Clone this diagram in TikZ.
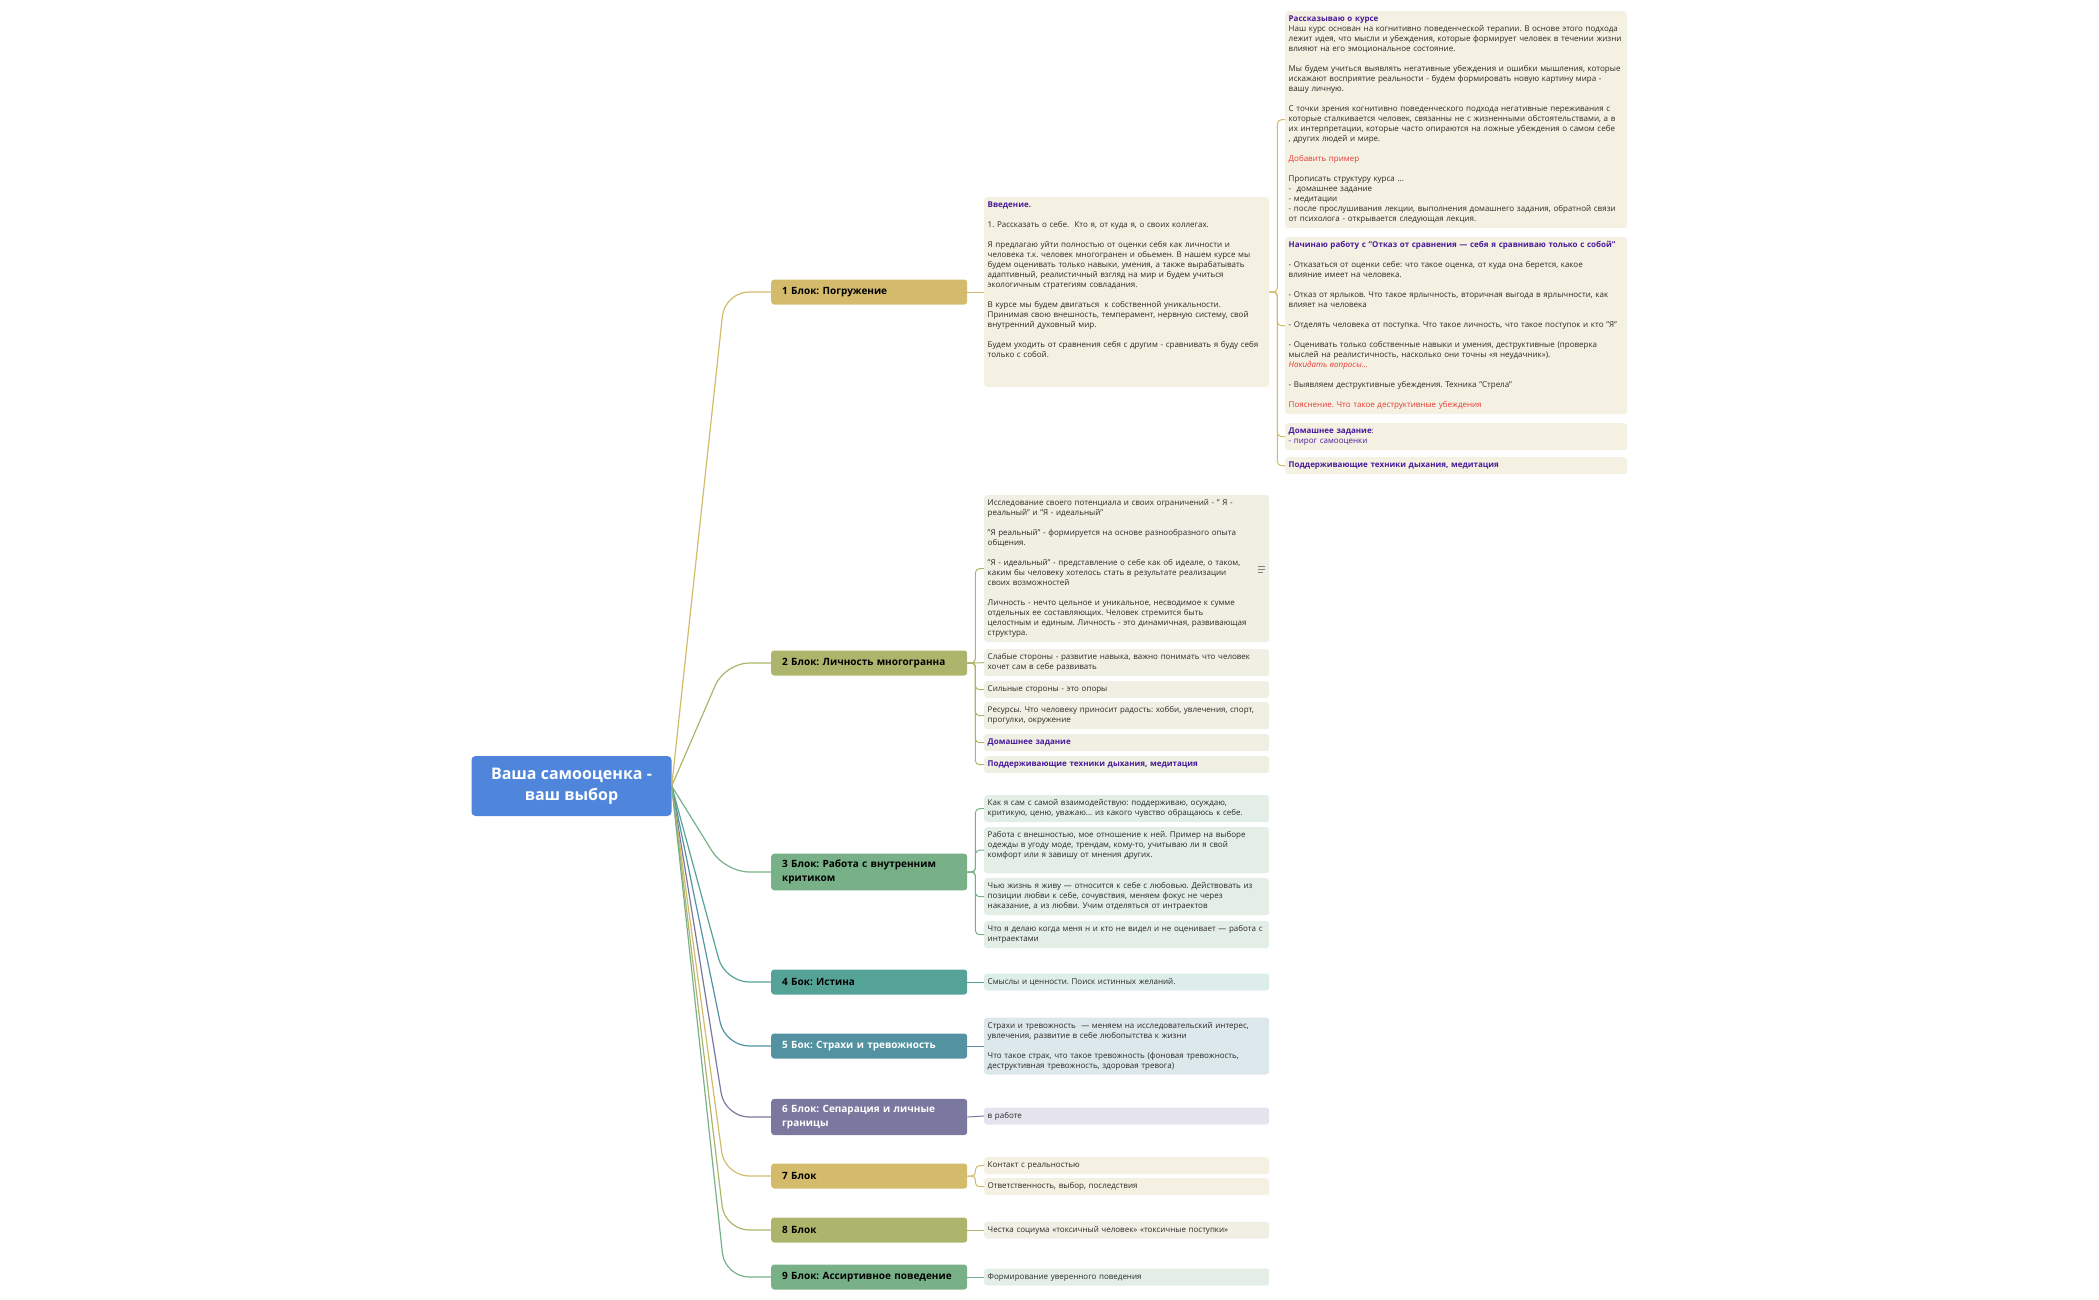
\documentclass[tikz,border=0pt]{standalone}
\usepackage{fontspec}
\setmainfont{Open Sans}
\frenchspacing

\definecolor{rootblue}{HTML}{4F86DB}
\definecolor{goldblk}{HTML}{D3BB6B}
\definecolor{oliveblk}{HTML}{ADB56C}
\definecolor{greenblk}{HTML}{78B188}
\definecolor{tealblk}{HTML}{55A397}
\definecolor{blueblk}{HTML}{5292A1}
\definecolor{violetblk}{HTML}{7A789F}
\definecolor{goldnote}{HTML}{F4F1E2}
\definecolor{olivenote}{HTML}{EFEFE4}
\definecolor{greennote}{HTML}{E3EFE6}
\definecolor{tealnote}{HTML}{DDEDEA}
\definecolor{bluenote}{HTML}{DCE8EC}
\definecolor{violetnote}{HTML}{E5E4EE}
\definecolor{inktext}{HTML}{2B2925}
\definecolor{inkpurple}{HTML}{4A1A9A}
\definecolor{inkred}{HTML}{E53935}

\newcommand{\headtxt}[1]{\textcolor{inkpurple}{\bfseries #1}}
\newcommand{\redtxt}[1]{\textcolor{inkred}{#1}}

\begin{document}
\begin{tikzpicture}[x=1pt, y=-1pt,
    root/.style={fill=rootblue, text=white, rounded corners=4pt, minimum width=200pt, minimum height=60pt, align=center, font=\fontsize{16}{20.5}\selectfont\bfseries},
    block/.style={anchor=west, rounded corners=3pt, minimum width=196pt, minimum height=25pt, text width=174pt, inner xsep=11pt, inner ysep=6.5pt, align=left, font=\fontsize{10}{13.5}\selectfont\bfseries},
    note/.style={anchor=north west, rounded corners=3pt, inner xsep=3.5pt, inner ysep=3.5pt, text width=278pt, align=left, text=inktext, font=\fontsize{8}{10}\selectfont, execute at begin node=\strut, execute at end node=\strut},
    wide/.style={text width=335pt},
    link/.style={line width=1.2pt, rounded corners=24pt},
    twig/.style={line width=1pt, rounded corners=4pt}]
    \useasboundingbox (0,0) rectangle (2099,1300);

    \node[root] (root) at (571.5,786) {Ваша самооценка -\\ваш выбор};

    \node[block, fill=goldblk] (b_1) at (771,292) {1 Блок: Погружение};
    \node[block, fill=oliveblk] (b_2) at (771,663) {2 Блок: Личность многогранна};
    \node[block, fill=greenblk] (b_3) at (771,872) {3 Блок: Работа с внутренним\\критиком};
    \node[block, fill=tealblk] (b_4) at (771,982) {4 Бок: Истина};
    \node[block, fill=blueblk, text=white] (b_5) at (771,1046) {5 Бок: Страхи и тревожность};
    \node[block, fill=violetblk, text=white] (b_6) at (771,1117) {6 Блок: Сепарация и личные\\границы};
    \node[block, fill=goldblk] (b_7) at (771,1176) {7 Блок};
    \node[block, fill=oliveblk] (b_8) at (771,1230) {8 Блок};
    \node[block, fill=greenblk] (b_9) at (771,1277) {9 Блок: Ассиртивное поведение};

    % 1 block
    \node[note, fill=goldnote, anchor=west, text height=7pt, text depth=176pt] (n_1) at (984,292) {\headtxt{Введение.}\\[10pt]
        1. Рассказать о себе.\ \ Кто я, от куда я, о своих коллегах.\\[10pt]
        Я предлагаю уйти полностью от оценки себя как личности и\\
        человека т.к. человек многогранен и обьемен. В нашем курсе мы\\
        будем оценивать только навыки, умения, а также вырабатывать\\
        адаптивный, реалистичный взгляд на мир и будем учиться\\
        экологичным стратегиям совладания.\\[10pt]
        В курсе мы будем двигаться\ \ к собственной уникальности.\\
        Принимая свою внешность, темперамент, нервную систему, свой\\
        внутренний духовный мир.\\[10pt]
        Будем уходить от сравнения себя с другим - сравнивать я буду себя\\
        только с собой.};
    \node[note, wide, fill=goldnote] (r_1) at (1285,11) {\headtxt{Рассказываю о курсе}\\
        Наш курс основан на когнитивно поведенческой терапии. В основе этого подхода\\
        лежит идея, что мысли и убеждения, которые формирует человек в течении жизни\\
        влияют на его эмоциональное состояние.\\[10pt]
        Мы будем учиться выявлять негативные убеждения и ошибки мышления, которые\\
        искажают восприятие реальности - будем формировать новую картину мира -\\
        вашу личную.\\[10pt]
        С точки зрения когнитивно поведенческого подхода негативные переживания с\\
        которые сталкивается человек, связанны не с жизненными обстоятельствами, а в\\
        их интерпретации, которые часто опираются на ложные убеждения о самом себе\\
        , других людей и мире.\\[10pt]
        \redtxt{Добавить пример}\\[10pt]
        Прописать структуру курса ...\\
        -\ \ домашнее задание\\
        - медитации\\
        - после прослушивания лекции, выполнения домашнего задания, обратной связи\\
        от психолога - открывается следующая лекция.};
    \node[note, wide, fill=goldnote] (r_2) at (1285,237) {\headtxt{Начинаю работу с "Отказ от сравнения — себя я сравниваю только с собой"}\\[10pt]
        - Отказаться от оценки себе: что такое оценка, от куда она берется, какое\\
        влияние имеет на человека.\\[10pt]
        - Отказ от ярлыков. Что такое ярлычность, вторичная выгода в ярлычности, как\\
        влияет на человека\\[10pt]
        - Отделять человека от поступка. Что такое личность, что такое поступок и кто "Я"\\[10pt]
        - Оценивать только собственные навыки и умения, деструктивные (проверка\\
        мыслей на реалистичность, насколько они точны «я неудачник»).\\
        \redtxt{\itshape Накидать вопросы...}\\[10pt]
        - Выявляем деструктивные убеждения. Техника "Стрела"\\[10pt]
        \redtxt{Пояснение. Что такое деструктивные убеждения}};
    \node[note, wide, fill=goldnote] (r_3) at (1285,423) {\headtxt{Домашнее задание}\textcolor{inkpurple}{:}\\
        \textcolor{inkpurple}{- пирог самооценки}};
    \node[note, wide, fill=goldnote] (r_4) at (1285,457) {\headtxt{Поддерживающие техники дыхания, медитация}};

    % 2 block
    \node[note, fill=olivenote] (n_2a) at (984,495) {Исследование своего потенциала и своих ограничений - " Я -\\
        реальный" и "Я - идеальный"\\[10pt]
        "Я реальный" - формируется на основе разнообразного опыта\\
        общения.\\[10pt]
        "Я - идеальный" - представление о себе как об идеале, о таком,\\
        каким бы человеку хотелось стать в результате реализации\\
        своих возможностей\\[10pt]
        Личность - нечто цельное и уникальное, несводимое к сумме\\
        отдельных ее составляющих. Человек стремится быть\\
        целостным и единым. Личность - это динамичная, развивающая\\
        структура.};
    \draw[gray, line width=0.8pt] (1258,566) -- (1265,566) (1258,569) -- (1265,569) (1258,572) -- (1263,572);
    \node[note, fill=olivenote] (n_2b) at (984,649) {Слабые стороны - развитие навыка, важно понимать что человек\\хочет сам в себе развивать};
    \node[note, fill=olivenote] (n_2c) at (984,681) {Сильные стороны - это опоры};
    \node[note, fill=olivenote] (n_2d) at (984,702) {Ресурсы. Что человеку приносит радость: хобби, увлечения, спорт,\\прогулки, окружение};
    \node[note, fill=olivenote] (n_2e) at (984,734) {\headtxt{Домашнее задание}};
    \node[note, fill=olivenote] (n_2f) at (984,756) {\headtxt{Поддерживающие техники дыхания, медитация}};

    % 3 block
    \node[note, fill=greennote] (n_3a) at (984,795) {Как я сам с самой взаимодействую: поддерживаю, осуждаю,\\критикую, ценю, уважаю... из какого чувство обращаюсь к себе.};
    \node[note, fill=greennote, text height=7pt, text depth=32pt] (n_3b) at (984,827) {Работа с внешностью, мое отношение к ней. Пример на выборе\\
        одежды в угоду моде, трендам, кому-то, учитываю ли я свой\\
        комфорт или я завишу от мнения других.};
    \node[note, fill=greennote] (n_3c) at (984,878) {Чью жизнь я живу — относится к себе с любовью. Действовать из\\
        позиции любви к себе, сочувствия, меняем фокус не через\\
        наказание, а из любви. Учим отделяться от интраектов};
    \node[note, fill=greennote] (n_3d) at (984,921) {Что я делаю когда меня н и кто не видел и не оценивает — работа с\\интраектами};

    % 4 - 9 blocks
    \node[note, fill=tealnote, anchor=west] (n_4) at (984,982) {Смыслы и ценности. Поиск истинных желаний.};
    \node[note, fill=bluenote, anchor=west] (n_5) at (984,1046) {Страхи и тревожность\ \ — меняем на исследовательский интерес,\\
        увлечения, развитие в себе любопытства к жизни\\[10pt]
        Что такое страх, что такое тревожность (фоновая тревожность,\\
        деструктивная тревожность, здоровая тревога)};
    \node[note, fill=violetnote, anchor=west] (n_6) at (984,1116) {в работе};
    \node[note, fill=goldnote] (n_7a) at (984,1157) {Контакт с реальностью};
    \node[note, fill=goldnote] (n_7b) at (984,1178) {Ответственность, выбор, последствия};
    \node[note, fill=olivenote, anchor=west] (n_8) at (984,1230) {Честка социума «токсичный человек» «токсичные поступки»};
    \node[note, fill=greennote, anchor=west] (n_9) at (984,1277) {Формирование уверенного поведения};

    \draw[link, goldblk] (root.east) -- ([xshift=-46]b_1.west) -- (b_1.west);
    \draw[link, oliveblk] (root.east) -- ([xshift=-46]b_2.west) -- (b_2.west);
    \draw[link, greenblk] (root.east) -- ([xshift=-46]b_3.west) -- (b_3.west);
    \draw[link, tealblk] (root.east) -- ([xshift=-46]b_4.west) -- (b_4.west);
    \draw[link, blueblk] (root.east) -- ([xshift=-46]b_5.west) -- (b_5.west);
    \draw[link, violetblk] (root.east) -- ([xshift=-46]b_6.west) -- (b_6.west);
    \draw[link, goldblk] (root.east) -- ([xshift=-46]b_7.west) -- (b_7.west);
    \draw[link, oliveblk] (root.east) -- ([xshift=-46]b_8.west) -- (b_8.west);
    \draw[link, greenblk] (root.east) -- ([xshift=-46]b_9.west) -- (b_9.west);

    \draw[twig, goldblk] (b_1.east) -- (n_1.west);
    \draw[twig, goldblk] (n_1.east) -- ++(8,0) |- (r_1.west);
    \draw[twig, goldblk] (n_1.east) -- ++(8,0) |- (r_2.west);
    \draw[twig, goldblk] (n_1.east) -- ++(8,0) |- (r_3.west);
    \draw[twig, goldblk] (n_1.east) -- ++(8,0) |- (r_4.west);
    \draw[twig, oliveblk] (b_2.east) -- ++(8,0) |- (n_2a.west);
    \draw[twig, oliveblk] (b_2.east) -- (n_2b.west);
    \draw[twig, oliveblk] (b_2.east) -- ++(8,0) |- (n_2c.west);
    \draw[twig, oliveblk] (b_2.east) -- ++(8,0) |- (n_2d.west);
    \draw[twig, oliveblk] (b_2.east) -- ++(8,0) |- (n_2e.west);
    \draw[twig, oliveblk] (b_2.east) -- ++(8,0) |- (n_2f.west);
    \draw[twig, greenblk] (b_3.east) -- ++(8,0) |- (n_3a.west);
    \draw[twig, greenblk] (b_3.east) -- ++(8,0) |- (n_3b.west);
    \draw[twig, greenblk] (b_3.east) -- ++(8,0) |- (n_3c.west);
    \draw[twig, greenblk] (b_3.east) -- ++(8,0) |- (n_3d.west);
    \draw[twig, tealblk] (b_4.east) -- (n_4.west);
    \draw[twig, blueblk] (b_5.east) -- (n_5.west);
    \draw[twig, violetblk] (b_6.east) -- (n_6.west);
    \draw[twig, goldblk] (b_7.east) -- ++(8,0) |- (n_7a.west);
    \draw[twig, goldblk] (b_7.east) -- ++(8,0) |- (n_7b.west);
    \draw[twig, oliveblk] (b_8.east) -- (n_8.west);
    \draw[twig, greenblk] (b_9.east) -- (n_9.west);
\end{tikzpicture}
\end{document}
